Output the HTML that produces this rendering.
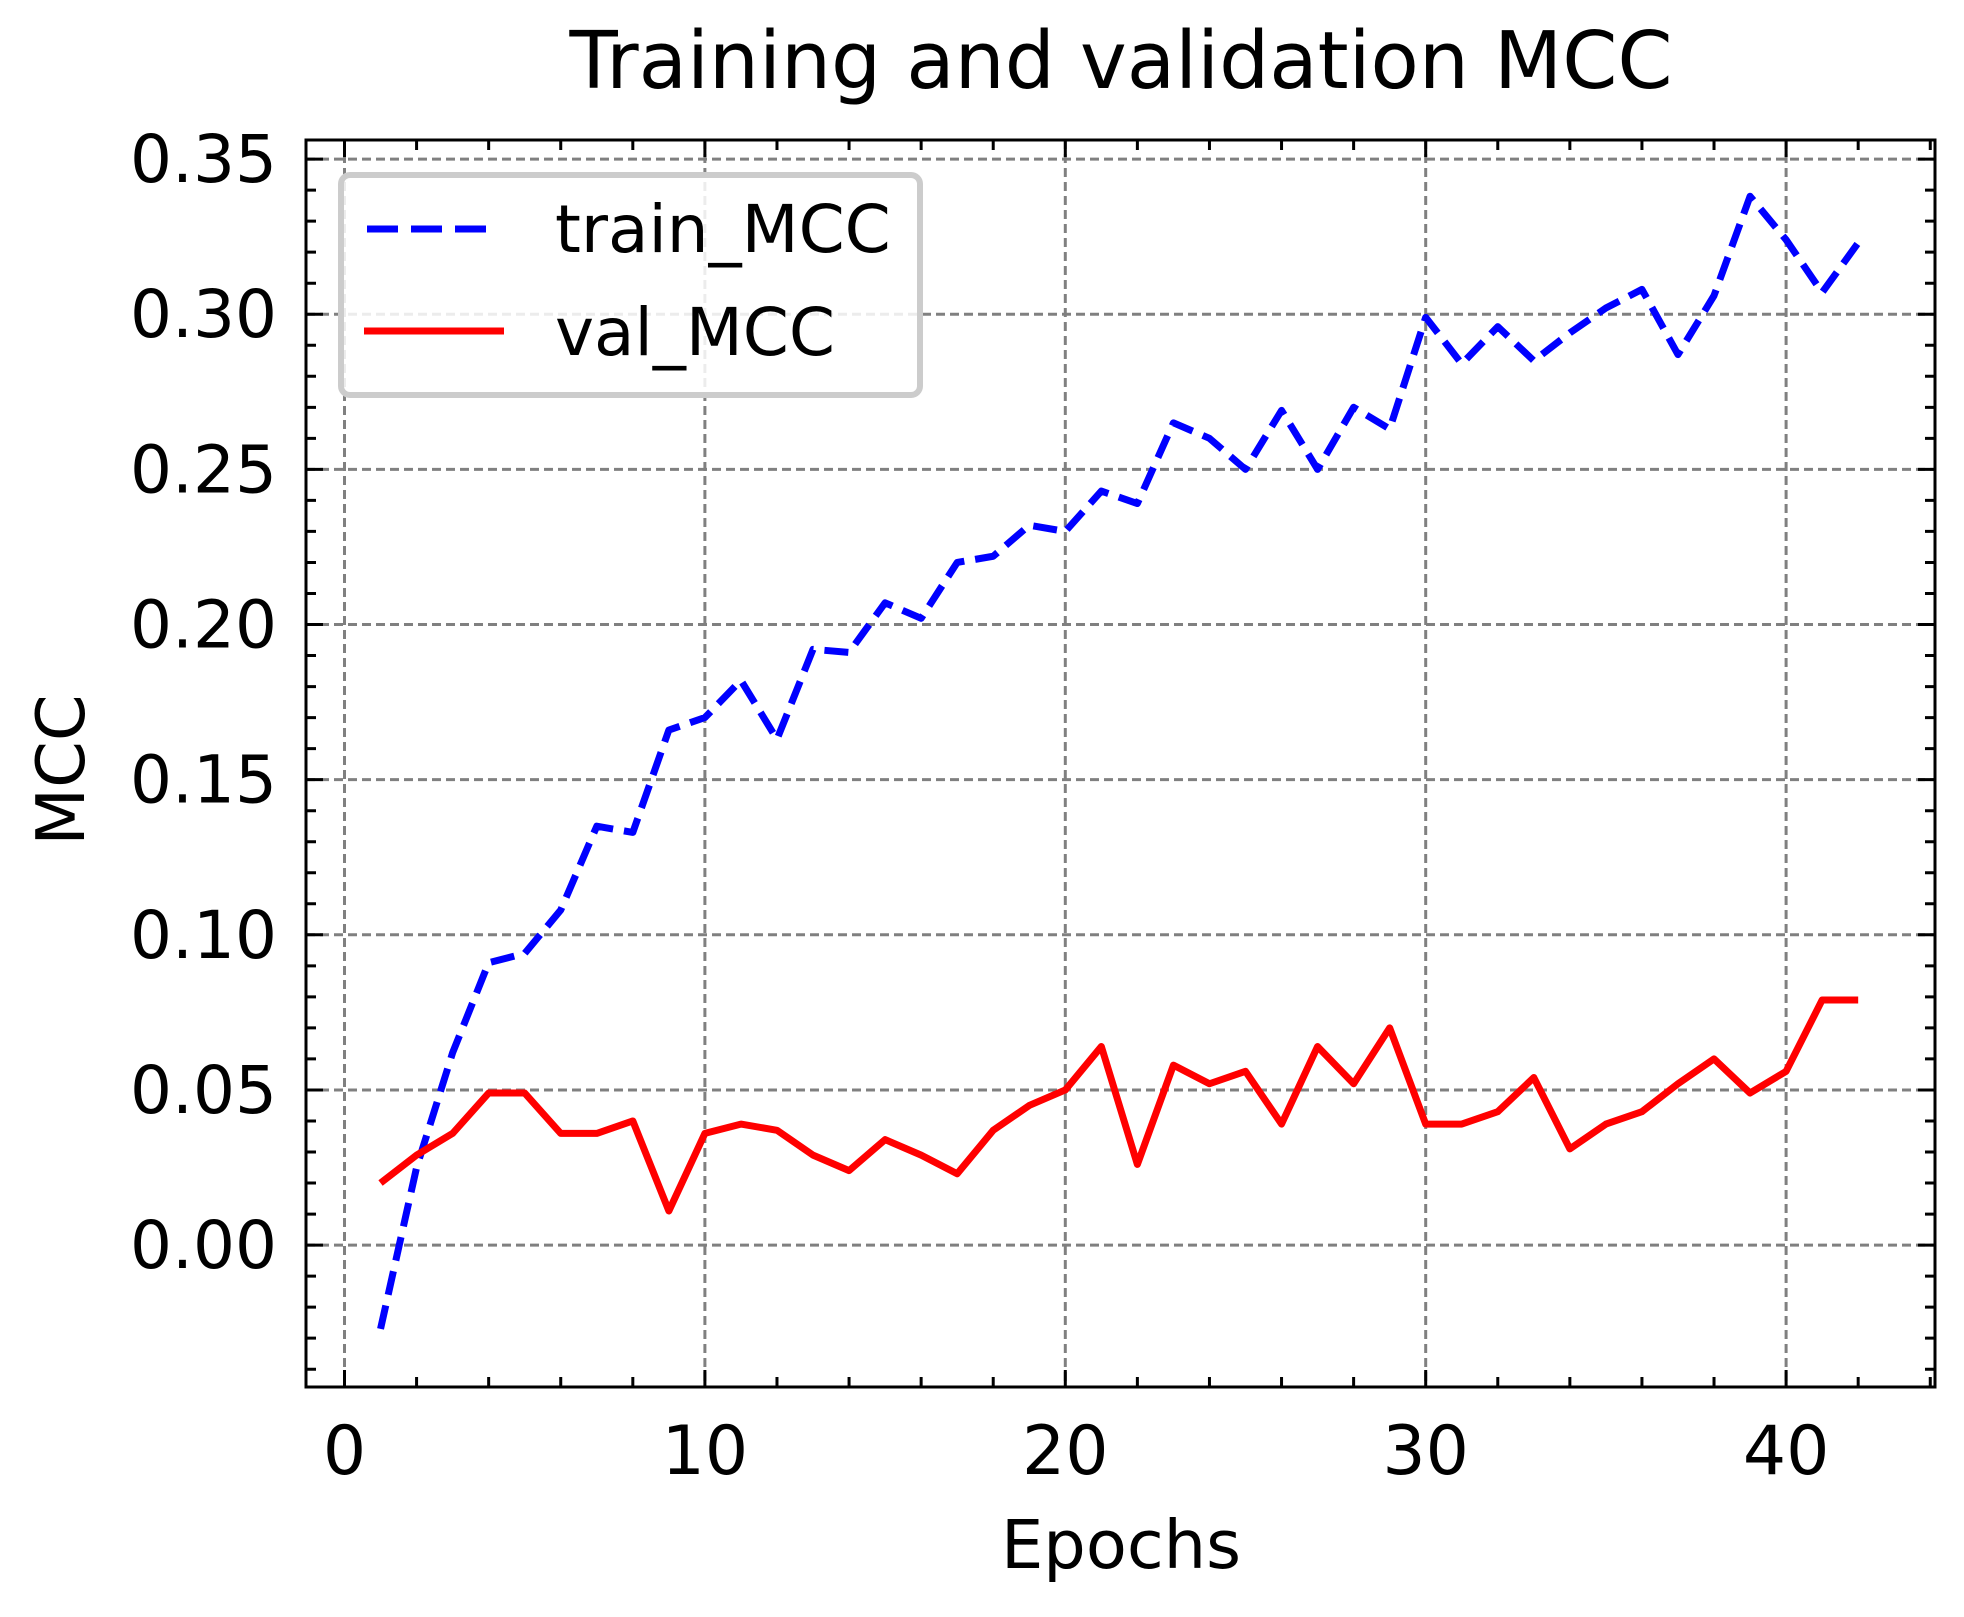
<!DOCTYPE html>
<html><head><meta charset="utf-8"><style>
html,body{margin:0;padding:0;background:#fff;}
svg text{font-family:"DejaVu Sans","Liberation Sans",sans-serif;fill:#000;}
</style></head><body>
<svg id="chart" width="1964" height="1612" viewBox="0 0 1964 1612" xmlns="http://www.w3.org/2000/svg">
<rect width="1964" height="1612" fill="#fff"/>
<g id="grid"></g>
<g id="series"></g>
<g id="axes"></g>
<text x="1121" y="88" font-size="79" text-anchor="middle">Training and validation MCC</text>
<text x="1121" y="1568" font-size="67" text-anchor="middle">Epochs</text>
<text transform="translate(84,770) rotate(-90)" font-size="67" text-anchor="middle">MCC</text>
<g>
<rect x="341" y="175" width="579" height="220" rx="9" fill="#fff" fill-opacity="0.85" stroke="#cccccc" stroke-width="6"/>
<line x1="367" y1="229" x2="499" y2="229" stroke="#0000ff" stroke-width="7" stroke-dasharray="31,13"/>
<text x="555" y="252" font-size="66">train_MCC</text>
<line x1="364" y1="331" x2="504" y2="331" stroke="#ff0000" stroke-width="7"/>
<text x="555" y="355" font-size="66">val_MCC</text>
</g>
</svg>
<script>
const epochs = [1,2,3,4,5,6,7,8,9,10,11,12,13,14,15,16,17,18,19,20,21,22,23,24,25,26,27,28,29,30,31,32,33,34,35,36,37,38,39,40,41,42];
const trainMCC = [-0.027,0.025,0.062,0.091,0.094,0.108,0.135,0.133,0.166,0.170,0.182,0.163,0.192,0.191,0.207,0.202,0.220,0.222,0.232,0.230,0.243,0.239,0.265,0.260,0.250,0.269,0.250,0.270,0.263,0.299,0.284,0.296,0.285,0.294,0.302,0.308,0.287,0.306,0.338,0.324,0.307,0.323];
const valMCC = [0.020,0.029,0.036,0.049,0.049,0.036,0.036,0.040,0.011,0.036,0.039,0.037,0.029,0.024,0.034,0.029,0.023,0.037,0.045,0.050,0.064,0.026,0.058,0.052,0.056,0.039,0.064,0.052,0.070,0.039,0.039,0.043,0.054,0.031,0.039,0.043,0.052,0.060,0.049,0.056,0.079,0.079];
const xTicks = [0,10,20,30,40];
const yTicks = [0.00,0.05,0.10,0.15,0.20,0.25,0.30,0.35];

const L=306,R=1935,T=140,B=1387;
const xs = v => 344.5 + v*36.04;
const ys = v => 1245.1 - v*3102.9;
const NS="http://www.w3.org/2000/svg";
function mk(tag, attrs, parent){const e=document.createElementNS(NS,tag);for(const k in attrs)e.setAttribute(k,attrs[k]);parent.appendChild(e);return e;}
const grid=document.getElementById('grid'), axes=document.getElementById('axes'), series=document.getElementById('series');

xTicks.forEach(t=>{
  const g=mk('line',{x1:xs(t),x2:xs(t),y1:T,y2:B,stroke:'#808080','stroke-width':3,'stroke-dasharray':'9,5'},grid);
  
  
  const lb=mk('text',{x:xs(t),y:1474,'font-size':68,'text-anchor':'middle'},axes);
  lb.textContent=String(t);
  
  
});
yTicks.forEach(t=>{
  const g=mk('line',{x1:L,x2:R,y1:ys(t),y2:ys(t),stroke:'#808080','stroke-width':3,'stroke-dasharray':'9,5'},grid);
  
  
  const lb=mk('text',{x:277,y:ys(t)+23,'font-size':66,'text-anchor':'end'},axes);
  lb.textContent=t.toFixed(2);
  
  
});
let d='';
for(let v=0;v<=44;v+=2){const x=xs(v);if(x<L||x>R)continue;const len=(v%10===0)?17:10;d+=`M${x},${B}v${-len}M${x},${T}v${len}`;}
for(let i=-4;i<=35;i++){const v=i/100;const y=ys(v);if(y<T||y>B)continue;const len=(i%5===0)?17:10;d+=`M${L},${y}h${len}M${R},${y}h${-len}`;}
const tk=mk('path',{d:d,stroke:'#000','stroke-width':3,fill:'none'},axes);


const fr=mk('rect',{x:L,y:T,width:R-L,height:B-T,fill:'none',stroke:'#000','stroke-width':3},axes);



function pts(arr){return epochs.map((e,i)=>xs(e)+','+ys(arr[i])).join(' ');}
const pt=mk('polyline',{points:pts(trainMCC),fill:'none',stroke:'#0000ff','stroke-width':7,'stroke-dasharray':'24,11','stroke-linejoin':'round'},series);


const pv=mk('polyline',{points:pts(valMCC),fill:'none',stroke:'#ff0000','stroke-width':7,'stroke-linejoin':'round'},series);


</script>
</body></html>
